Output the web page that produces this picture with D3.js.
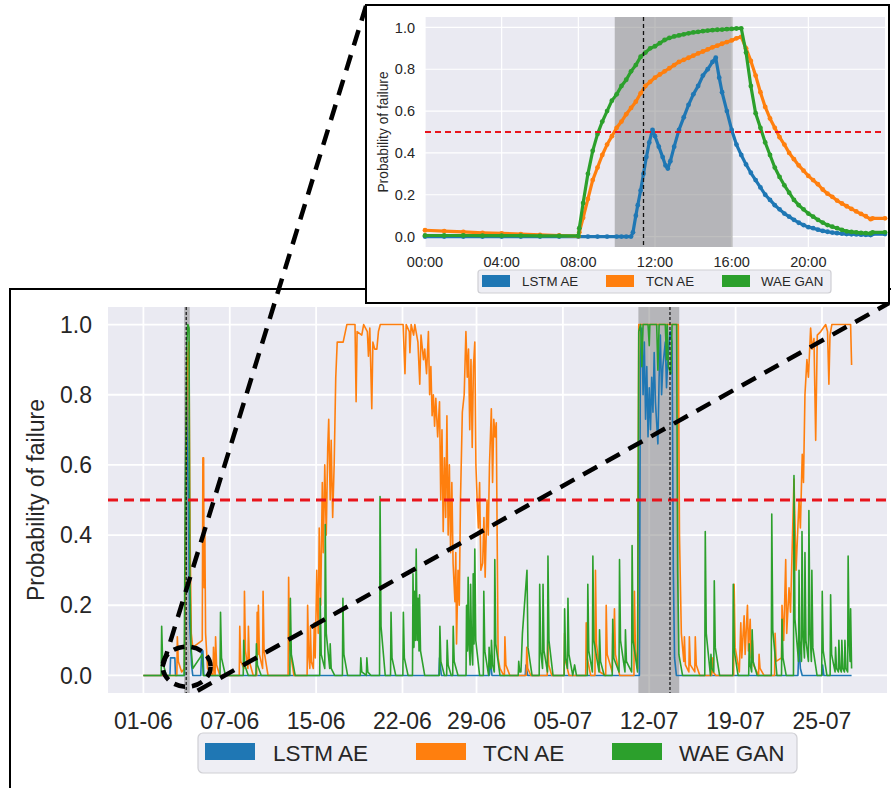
<!DOCTYPE html>
<html>
<head>
<meta charset="utf-8">
<script src="https://cdn.jsdelivr.net/npm/d3@7"></script>
<style>
  body { margin: 0; background: #fff; }
  svg { display: block; font-family: "Liberation Sans", Arial, sans-serif; }
</style>
</head>
<body>
<svg width="891" height="788"></svg>
<script>
/* ---- data ---- */
var seriesNames = ["LSTM AE", "TCN AE", "WAE GAN"];
var seriesColors = ["#1f77b4", "#ff7f0e", "#2ca02c"];
var probTicks = [0, 0.2, 0.4, 0.6, 0.8, 1.0];
var threshold = 0.5;

// main chart, x in days counted from 01-06
var dayTicks = [0, 7, 14, 21, 27, 34, 41, 48, 55];
var dayLabels = ["01-06", "07-06", "15-06", "22-06", "29-06", "05-07", "12-07", "19-07", "25-07"];
// failure windows [start, end, reported time]
var failureBands = [[3.3, 3.75, 3.47], [40.12, 43.43, 42.68]];
var zoomDay = 3.5;

var lstmMain = [
  [0,0],[2.15,0],[2.2,0.05],[2.55,0.05],[2.6,0],
  [3.33,0],[3.42,0.3],[3.55,0.85],[3.64,0.5],[3.75,0.15],[3.9,0.03],[4.0,0],[4.65,0],[4.72,0.07],[4.82,0.07],[4.9,0],
  [23.95,0],[24.0,0.05],[24.15,0],
  [28.05,0],[28.1,0.05],[28.25,0],
  [30.95,0],[31.0,0.03],[31.15,0],
  [40.2,0],[40.28,0.9],[40.4,0.99],[40.5,0.8],[40.6,0.95],[40.7,0.73],[40.8,0.88],[40.9,0.68],[41.0,0.82],[41.1,0.7],
  [41.2,0.85],[41.3,0.75],[41.4,0.92],[41.5,0.78],[41.6,0.72],[41.7,0.66],[41.8,0.85],[41.9,0.97],[42.0,0.8],[42.1,0.88],
  [42.3,0.95],[42.4,0.82],[42.5,0.9],[42.7,0.98],[42.85,0.95],[42.95,0.3],[43.05,0.05],[43.2,0],
  [53.05,0],[53.14,0.09],[53.25,0.02],[53.4,0],
  [55.0,0],[55.05,0.03],[55.15,0],[57.4,0]
];

var tcnMain = [
  [0,0],[2.71,0],[2.75,0.11],[2.83,0.04],[3.1,0.01],
  [3.33,0.02],[3.45,0.6],[3.55,0.88],[3.69,0.95],[3.78,0.4],[3.88,0.12],[4.0,0.08],[4.77,0.1],[4.82,0.62],[4.88,0.62],
  [4.92,0.25],[4.98,0.4],[5.04,0.12],[5.2,0.02],
  [5.64,0],[5.68,0.08],[5.76,0.02],[5.81,0],[5.85,0.11],[5.93,0.03],[6.2,0],
  [7.77,0],[7.81,0.14],[7.89,0.04],[8.15,0.02],[8.19,0.24],[8.27,0.07],[8.47,0.02],[8.51,0.14],[8.59,0.04],[8.9,0],
  [9.18,0],[9.22,0.18],[9.28,0.06],[9.32,0.2],[9.4,0.06],[9.66,0.02],[9.7,0.24],[9.78,0.07],[10.1,0],
  [11.73,0],[11.77,0.28],[11.85,0.08],[12.2,0],
  [13.27,0],[13.31,0.2],[13.39,0.06],[13.49,0.02],[13.53,0.14],[13.61,0.04],
  [13.77,0.02],[13.85,0.15],[13.93,0.05],[14.05,0.3],[14.17,0.12],[14.25,0.42],[14.37,0.2],[14.5,0.55],[14.58,0.35],
  [14.7,0.6],[14.82,0.4],[14.94,0.65],[15.02,0.73],[15.14,0.5],[15.22,0.67],[15.34,0.45],[15.46,0.6],[15.59,0.85],
  [15.71,0.95],[16.19,0.95],[16.49,1.0],
  [17.15,1.0],[17.24,0.78],[17.32,0.98],[17.7,0.97],[17.85,1.0],[18.15,0.98],[18.24,0.91],[18.35,0.99],[18.51,0.76],
  [18.6,0.95],[18.75,0.93],[18.92,0.93],[19.05,0.98],[19.2,1.0],[21.05,1.0],[21.2,0.86],[21.3,1.0],[21.55,0.98],
  [21.6,0.92],[21.7,1.0],[21.9,0.97],[22.0,1.0],[22.25,0.95],[22.4,0.83],[22.5,0.97],[22.7,0.9],[22.8,0.93],[22.95,0.86],
  [23.1,0.98],[23.2,0.8],[23.3,0.88],[23.4,0.74],[23.5,0.8],[23.6,0.71],[23.7,0.79],[23.85,0.68],[24.0,0.78],[24.1,0.5],
  [24.2,0.7],[24.3,0.41],[24.4,0.62],[24.5,0.45],[24.6,0.74],[24.7,0.4],[24.8,0.6],[24.9,0.35],[25.0,0.55],[25.1,0.32],
  [25.25,0.21],[25.32,0.35],[25.38,0.09],[25.5,0.3],[25.6,0.2],[25.7,0.5],[25.85,0.75],[26.0,0.8],[26.14,0.98],
  [26.25,0.85],[26.35,0.93],[26.45,0.7],[26.55,0.9],[26.65,0.65],[26.75,0.88],[26.86,0.95],[26.95,0.6],[27.05,0.5],
  [27.15,0.42],[27.25,0.55],[27.35,0.3],[27.5,0.32],[27.6,0.45],[27.7,0.28],[27.85,0.5],[27.95,0.4],[28.05,0.6],
  [28.2,0.76],[28.3,0.55],[28.4,0.73],[28.5,0.68],[28.6,0.72],[28.75,0.05],[28.9,0.02],[29.2,0],
  [29.26,0],[29.3,0.11],[29.38,0.03],[29.7,0],
  [31.03,0],[31.07,0.08],[31.15,0.02],[31.4,0],
  [32.73,0],[32.77,0.1],[32.85,0.03],[33.1,0],
  [34.1,0],[34.14,0.12],[34.22,0.04],[34.5,0],
  [35.85,0],[35.89,0.15],[35.97,0.05],[36.25,0],[36.6,0],[36.64,0.3],[36.72,0.09],[37.0,0.01],
  [37.47,0],[37.51,0.2],[37.59,0.06],[38.0,0.01],[38.04,0.12],[38.1,0.05],[38.18,0.19],[38.26,0.06],[38.6,0],
  [39.76,0],[39.8,0.24],[39.88,0.07],[40.05,0.02],
  [40.15,1.0],[43.35,1.0],[43.45,0.4],[43.6,0.12],[43.8,0.04],[43.85,0.11],[43.93,0.03],[44.21,0.01],[44.25,0.11],
  [44.33,0.03],[44.69,0.01],[44.73,0.11],[44.81,0.03],[45.1,0],
  [46.06,0],[46.1,0.05],[46.18,0.01],[46.4,0],
  [47.84,0],[47.88,0.26],[47.96,0.08],[48.3,0.01],[48.42,0.15],[48.5,0.05],[48.69,0.17],[48.77,0.06],[48.96,0.2],
  [49.04,0.07],[49.18,0.16],[49.26,0.05],[49.36,0.1],[49.44,0.03],[49.86,0],[49.9,0.06],[49.98,0.02],[50.3,0],
  [51.16,0],[51.2,0.12],[51.28,0.04],[51.72,0.05],[51.76,0.2],[51.9,0.1],[52.06,0.33],[52.14,0.12],[52.33,0.25],
  [52.45,0.18],[52.73,0.56],[52.9,0.3],[53.14,0.5],[53.25,0.42],[53.4,0.63],[53.5,0.55],[53.62,0.8],[53.78,0.9],
  [53.9,0.85],[54.08,0.99],[54.2,0.93],[54.35,0.96],[54.49,0.67],[54.62,0.97],[54.9,0.98],[55.3,1.0],[55.45,0.98],
  [55.56,0.83],[55.65,0.97],[55.8,1.0],[57.32,1.0],[57.4,0.885]
];

var wganMain = [
  [0,0],[1.44,0],[1.48,0.14],[1.56,0.04],[1.85,0],
  [3.3,0],[3.4,0.55],[3.52,0.95],[3.6,1.0],[3.7,0.99],[3.76,0.3],[3.86,0.08],[4.0,0.02],[4.77,0.06],[4.85,0],
  [6.21,0],[6.25,0.18],[6.33,0.05],[6.65,0],
  [8.09,0],[8.13,0.1],[8.21,0.03],[8.5,0],
  [9.12,0],[9.16,0.09],[9.24,0.03],[9.55,0],
  [11.87,0],[11.91,0.22],[11.99,0.06],[12.3,0],
  [14.29,0],[14.33,0.22],[14.41,0.06],[14.7,0.02],[14.74,0.43],[14.82,0.12],[15.1,0.02],[15.14,0.09],[15.22,0.02],[15.5,0],
  [16.13,0],[16.17,0.22],[16.25,0.06],[16.55,0],
  [17.58,0],[17.62,0.05],[17.7,0.01],[18.07,0],[18.11,0.05],[18.19,0.01],[18.45,0],
  [19.14,0],[19.18,0.51],[19.26,0.14],[19.6,0],
  [20.03,0],[20.07,0.18],[20.15,0.05],[20.45,0],
  [21.03,0],[21.07,0.18],[21.15,0.05],[21.45,0],
  [21.81,0],[21.85,0.29],[21.93,0.08],[21.97,0.24],[22.05,0.1],[22.11,0.36],[22.19,0.1],[22.26,0.22],[22.34,0.07],
  [22.38,0.23],[22.46,0.07],[22.8,0],
  [23.99,0],[24.03,0.14],[24.11,0.04],[24.4,0],[24.58,0],[24.62,0.1],[24.7,0.03],[24.95,0],[25.07,0],[25.11,0.14],[25.19,0.04],[25.5,0],
  [26.15,0],[26.19,0.2],[26.27,0.07],[26.32,0.28],[26.4,0.09],[26.48,0.03],[26.52,0.26],[26.6,0.08],[26.69,0.03],[26.73,0.29],
  [26.8,0.09],[26.86,0.36],[26.94,0.1],[27.25,0],
  [27.55,0],[27.59,0.24],[27.67,0.07],[27.98,0],[28.02,0.08],[28.1,0.03],[28.17,0.02],[28.21,0.1],[28.3,0.03],[28.44,0.01],
  [28.48,0.33],[28.56,0.09],[28.9,0],
  [30.38,0],[30.42,0.04],[30.5,0.01],[30.6,0.01],[30.72,0.12],[31.09,0.3],[31.17,0.08],[31.5,0],
  [32.08,0],[32.12,0.26],[32.2,0.07],[32.35,0.02],[32.39,0.26],[32.47,0.07],[32.75,0.01],[32.79,0.34],[32.87,0.1],[33.2,0],
  [34.1,0],[34.14,0.19],[34.22,0.05],[34.37,0.02],[34.41,0.22],[34.49,0.06],[34.8,0],[34.95,0.03],[35.1,0],
  [35.98,0],[36.02,0.26],[36.1,0.07],[36.39,0.01],[36.43,0.34],[36.51,0.1],[36.93,0.01],[36.97,0.13],[37.05,0.04],[37.35,0],
  [38.0,0],[38.04,0.16],[38.12,0.05],[38.55,0.01],[38.59,0.33],[38.67,0.1],[39.03,0.01],[39.07,0.13],[39.15,0.04],
  [39.57,0.01],[39.61,0.37],[39.69,0.1],[40.05,0.01],
  [40.15,0.98],[40.3,1.0],[40.4,0.88],[40.5,1.0],[40.9,1.0],[41.0,0.94],[41.05,1.0],[41.6,1.0],[41.7,0.87],[41.8,1.0],
  [42.3,1.0],[42.4,0.9],[42.45,1.0],[42.55,0.88],[42.75,0.86],[42.85,1.0],[43.22,1.0],[43.3,0.3],[43.4,0.06],[43.7,0],
  [45.5,0],[45.54,0.41],[45.62,0.12],[45.96,0],[46.0,0.06],[46.08,0.02],[46.23,0.01],[46.27,0.27],[46.35,0.08],[46.7,0],
  [47.77,0],[47.81,0.26],[47.89,0.07],[48.2,0],
  [49.06,0],[49.1,0.09],[49.18,0.03],[49.3,0.01],[49.34,0.13],[49.42,0.04],[49.75,0],
  [50.89,0],[50.93,0.46],[51.01,0.13],[51.35,0],[51.72,0],[51.76,0.16],[51.84,0.05],[52.1,0],
  [52.69,0],[52.73,0.57],[52.81,0.16],[53.1,0.04],[53.14,0.3],[53.2,0.1],[53.34,0.04],[53.38,0.41],[53.46,0.12],[53.58,0.05],
  [53.62,0.35],[53.7,0.1],[53.9,0.04],[53.94,0.47],[54.02,0.13],[54.14,0.04],[54.18,0.3],[54.26,0.08],[54.6,0],
  [54.98,0],[55.02,0.24],[55.1,0.07],[55.4,0],[55.66,0],[55.7,0.23],[55.78,0.06],[56.06,0.01],[56.1,0.08],[56.18,0.02],
  [56.33,0.01],[56.37,0.1],[56.45,0.02],[56.57,0.01],[56.61,0.1],[56.69,0.02],[56.82,0.01],[56.86,0.1],[56.94,0.02],
  [57.08,0.01],[57.12,0.34],[57.2,0.1],[57.28,0.04],[57.32,0.19],[57.4,0.02]
];

// inset: 24 hours around the first failure, x in hours
var hourTicks = [0, 4, 8, 12, 16, 20];
var hourLabels = ["00:00", "04:00", "08:00", "12:00", "16:00", "20:00"];
var insetBand = [[9.9, 16.05, 11.4]];

var lstmZoom = [
  [0,0],[1,0],[2,0],[3,0],[4,0],[5,0],[6,0],[7,0],[8,0],[8.5,0],[9,0],[9.5,0],[10,0],[10.25,0],[10.5,0],[10.75,0],
  [10.85,0.02],[11,0.1],[11.1,0.15],[11.25,0.22],[11.4,0.3],[11.55,0.38],[11.7,0.45],[11.87,0.51],[12,0.48],[12.2,0.43],
  [12.4,0.38],[12.55,0.34],[12.67,0.325],[12.8,0.36],[13,0.43],[13.25,0.51],[13.5,0.57],[13.75,0.63],[14,0.68],
  [14.25,0.72],[14.5,0.77],[14.75,0.8],[15,0.835],[15.17,0.855],[15.35,0.76],[15.5,0.69],[15.75,0.6],[16,0.51],
  [16.25,0.44],[16.5,0.39],[16.75,0.345],[17,0.305],[17.25,0.27],[17.5,0.235],[17.75,0.2],[18,0.175],[18.25,0.15],
  [18.5,0.13],[18.75,0.11],[19,0.095],[19.25,0.08],[19.5,0.066],[19.75,0.055],[20,0.045],[20.25,0.04],[20.5,0.033],
  [20.75,0.027],[21,0.023],[21.25,0.019],[21.5,0.016],[21.75,0.014],[22,0.012],[22.25,0.011],[22.5,0.01],[22.75,0.009],
  [23,0.008],[23.25,0.007],[23.35,0.012],[24,0.012]
];
var tcnZoom = [
  [0,0.03],[1,0.026],[2,0.022],[3,0.018],[4,0.015],[5,0.012],[6,0.008],[7,0.005],[8,0.002],[8.05,0.02],[8.25,0.09],
  [8.5,0.18],[8.75,0.27],[9,0.33],[9.25,0.39],[9.5,0.44],[9.75,0.48],[10,0.52],[10.25,0.55],[10.5,0.585],[10.75,0.615],
  [11,0.645],[11.25,0.685],[11.5,0.72],[11.75,0.74],[12,0.76],[12.25,0.775],[12.5,0.79],[12.75,0.805],[13,0.82],
  [13.25,0.835],[13.5,0.845],[13.75,0.855],[14,0.865],[14.25,0.876],[14.5,0.885],[14.75,0.895],[15,0.905],[15.25,0.913],
  [15.5,0.922],[15.75,0.93],[16,0.938],[16.25,0.948],[16.5,0.955],[16.75,0.9],[17,0.84],[17.25,0.77],[17.5,0.69],
  [17.75,0.62],[18,0.565],[18.25,0.52],[18.5,0.475],[18.75,0.44],[19,0.4],[19.25,0.37],[19.5,0.34],[19.75,0.315],
  [20,0.29],[20.25,0.27],[20.5,0.25],[20.75,0.225],[21,0.205],[21.25,0.19],[21.5,0.172],[21.75,0.158],[22,0.145],
  [22.25,0.132],[22.5,0.12],[22.75,0.108],[23,0.097],[23.25,0.083],[23.35,0.087],[24,0.087]
];
var wganZoom = [
  [0,0.005],[1,0.005],[2,0.005],[3,0.004],[4,0.004],[5,0.004],[6,0.003],[7,0.003],[8,0.003],[8.05,0.04],[8.25,0.16],
  [8.5,0.3],[8.75,0.41],[9,0.49],[9.25,0.55],[9.5,0.6],[9.75,0.65],[10,0.68],[10.25,0.72],[10.5,0.75],[10.75,0.79],
  [11,0.82],[11.25,0.86],[11.5,0.88],[11.75,0.9],[12,0.91],[12.25,0.925],[12.5,0.94],[12.75,0.95],[13,0.957],
  [13.25,0.962],[13.5,0.967],[13.75,0.972],[14,0.976],[14.25,0.979],[14.5,0.982],[14.75,0.985],[15,0.987],[15.25,0.989],
  [15.5,0.99],[15.75,0.992],[16,0.993],[16.25,0.995],[16.5,0.996],[16.75,0.88],[17,0.72],[17.25,0.59],[17.5,0.52],
  [17.75,0.45],[18,0.39],[18.25,0.33],[18.5,0.285],[18.75,0.245],[19,0.21],[19.25,0.175],[19.5,0.15],[19.75,0.13],
  [20,0.11],[20.25,0.095],[20.5,0.08],[20.75,0.067],[21,0.055],[21.25,0.047],[21.5,0.04],[21.75,0.032],[22,0.025],
  [22.25,0.022],[22.5,0.02],[22.75,0.018],[23,0.016],[23.25,0.015],[23.35,0.02],[24,0.02]
];

/* ---- drawing ---- */
var svg = d3.select("svg");
var fmt = d3.format(".1f");

function drawPanel(g, p) {
    var x = d3.scaleLinear().domain(p.xDomain).range([p.left, p.right]),
        y = d3.scaleLinear().domain([-0.05, 1.05]).range([p.bottom, p.top]);

    g.append("rect")
        .attr("x", p.left).attr("y", p.top)
        .attr("width", p.right - p.left).attr("height", p.bottom - p.top)
        .attr("fill", "#eaeaf2");

    // white grid
    g.selectAll(".gx").data(p.xTicks).enter().append("line")
        .attr("x1", function(d) { return x(d); }).attr("x2", function(d) { return x(d); })
        .attr("y1", p.top).attr("y2", p.bottom)
        .attr("stroke", "#fff").attr("stroke-width", p.grid);
    g.selectAll(".gy").data(probTicks).enter().append("line")
        .attr("x1", p.left).attr("x2", p.right)
        .attr("y1", function(d) { return y(d); }).attr("y2", function(d) { return y(d); })
        .attr("stroke", "#fff").attr("stroke-width", p.grid);

    // failure windows
    g.selectAll(".band").data(p.bands).enter().append("rect")
        .attr("x", function(d) { return x(d[0]); })
        .attr("width", function(d) { return x(d[1]) - x(d[0]); })
        .attr("y", p.top).attr("height", p.bottom - p.top)
        .attr("fill", "#808080").attr("fill-opacity", 0.5);

    var line = d3.line()
        .x(function(d) { return x(d[0]); })
        .y(function(d) { return y(d[1]); });

    p.series.forEach(function(s, i) {
        g.append("path")
            .attr("d", line(s))
            .attr("fill", "none")
            .attr("stroke", seriesColors[i])
            .attr("stroke-width", p.lw)
            .attr("stroke-linejoin", "round");
        if (p.marker) {
            g.selectAll(".m" + i).data(s).enter().append("circle")
                .attr("cx", function(d) { return x(d[0]); })
                .attr("cy", function(d) { return y(d[1]); })
                .attr("r", p.marker)
                .attr("fill", seriesColors[i]);
        }
    });

    // threshold
    g.append("line")
        .attr("x1", p.left).attr("x2", p.right)
        .attr("y1", y(threshold)).attr("y2", y(threshold))
        .attr("stroke", "#e8141c").attr("stroke-width", p.redW)
        .attr("stroke-dasharray", p.redDash);

    // reported failure time
    g.selectAll(".ev").data(p.bands).enter().append("line")
        .attr("x1", function(d) { return x(d[2]); }).attr("x2", function(d) { return x(d[2]); })
        .attr("y1", p.top).attr("y2", p.bottom)
        .attr("stroke", "#111").attr("stroke-width", p.evW)
        .attr("stroke-dasharray", p.evDash);

    // tick labels
    g.selectAll(".ty").data(probTicks).enter().append("text")
        .attr("x", p.left - p.yPad).attr("y", function(d) { return y(d); })
        .attr("dy", "0.35em").attr("text-anchor", "end")
        .attr("font-size", p.tickFont).attr("fill", "#262626")
        .text(fmt);
    g.selectAll(".tx").data(p.xTicks).enter().append("text")
        .attr("x", function(d) { return x(d); }).attr("y", p.xLabelY)
        .attr("dy", "0.35em").attr("text-anchor", "middle")
        .attr("font-size", p.tickFont).attr("fill", "#262626")
        .text(function(d, i) { return p.xLabels[i]; });

    g.append("text")
        .attr("transform", "translate(" + p.yLabelX + "," + (p.top + p.bottom) / 2 + ") rotate(-90)")
        .attr("dy", "0.35em").attr("text-anchor", "middle")
        .attr("font-size", p.labelFont).attr("fill", "#262626")
        .text("Probability of failure");

    // legend
    var L = p.legend;
    g.append("rect")
        .attr("x", L.x).attr("y", L.y).attr("width", L.w).attr("height", L.h)
        .attr("rx", L.r).attr("fill", "#eeeef4").attr("stroke", "#cfcfd4").attr("stroke-width", 1.2);
    seriesNames.forEach(function(name, i) {
        g.append("rect")
            .attr("x", L.patchX[i]).attr("y", L.y + L.patchTop)
            .attr("width", L.patchW).attr("height", L.patchH)
            .attr("fill", seriesColors[i]);
        g.append("text")
            .attr("x", L.textX[i]).attr("y", L.y + L.h / 2)
            .attr("dy", "0.35em").attr("font-size", L.font).attr("fill", "#262626")
            .text(name);
    });

    return {x: x, y: y};
}

// main figure frame
svg.append("rect")
    .attr("x", 10).attr("y", 289).attr("width", 900).attr("height", 520)
    .attr("fill", "#fff").attr("stroke", "#000").attr("stroke-width", 2);

var main = drawPanel(svg.append("g"), {
    left: 108, right: 887, top: 307, bottom: 693,
    xDomain: [-2.87, 60.27], xTicks: dayTicks, xLabels: dayLabels,
    bands: failureBands, series: [lstmMain, tcnMain, wganMain],
    grid: 1.8, lw: 1.6, marker: 0,
    redW: 3, redDash: "10,6", evW: 1.2, evDash: "3,2",
    yPad: 16, xLabelY: 721, yLabelX: 36,
    tickFont: 23, labelFont: 23,
    legend: {x: 198, y: 733, w: 599, h: 40, r: 5,
             patchX: [205, 416, 612], patchW: 50, patchTop: 10, patchH: 17,
             textX: [273, 483, 679], font: 22.5}
});

// zoom marker + connector lines
var cx = main.x(zoomDay), cy = main.y(0.025), rx = 24, ry = 20;
var conn = svg.append("g")
    .attr("fill", "none").attr("stroke", "#000")
    .attr("stroke-width", 4.5);
conn.append("ellipse")
    .attr("cx", cx).attr("cy", cy).attr("rx", rx).attr("ry", ry)
    .attr("stroke-dasharray", "11,7");
conn.append("line")
    .attr("x1", cx - rx).attr("y1", cy).attr("x2", 366).attr("y2", 6)
    .attr("stroke-dasharray", "16,10");
conn.append("line")
    .attr("x1", cx + 11).attr("y1", cy + 24).attr("x2", 889).attr("y2", 303)
    .attr("stroke-dasharray", "16,10");

// inset
svg.append("rect")
    .attr("x", 366).attr("y", 5).attr("width", 523).attr("height", 298)
    .attr("fill", "#fff").attr("stroke", "#000").attr("stroke-width", 2);

drawPanel(svg.append("g"), {
    left: 425, right: 885, top: 17, bottom: 247,
    xDomain: [0, 24], xTicks: hourTicks, xLabels: hourLabels,
    bands: insetBand, series: [lstmZoom, tcnZoom, wganZoom],
    grid: 1.2, lw: 3.2, marker: 2.4,
    redW: 2, redDash: "6,4", evW: 1.3, evDash: "4,3",
    yPad: 10, xLabelY: 262, yLabelX: 383,
    tickFont: 14.5, labelFont: 13.8,
    legend: {x: 478, y: 270, w: 353, h: 23, r: 3,
             patchX: [482, 606, 722], patchW: 28, patchTop: 5, patchH: 12,
             textX: [522, 646, 761], font: 13.3}
});
</script>
</body>
</html>
